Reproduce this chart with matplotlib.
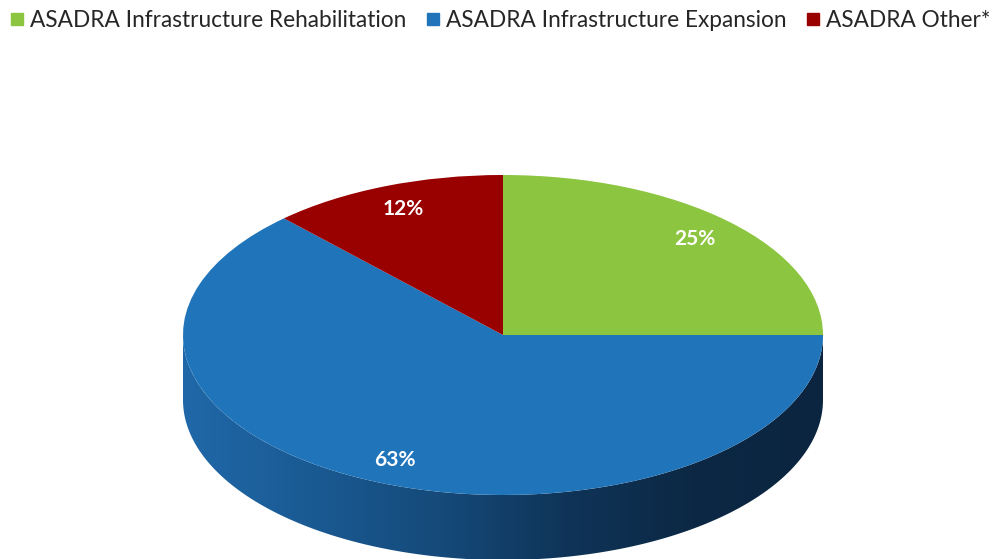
import numpy as np
import matplotlib.pyplot as plt
import matplotlib.transforms as mtransforms
from matplotlib.patches import Wedge, Polygon
from matplotlib.colors import LinearSegmentedColormap
from matplotlib.lines import Line2D

plt.rcParams["font.family"] = ["Lato", "DejaVu Sans"]

# data
categories = [
    "ASADRA Infrastructure Rehabilitation",
    "ASADRA Infrastructure Expansion",
    "ASADRA Other*",
]
shares = [25, 63, 12]
colors = ["#8cc540", "#1f74ba", "#990000"]

fig = plt.figure(figsize=(10.04, 5.59), dpi=100)
ax = fig.add_axes([0, 0, 1, 1])
ax.set_xlim(0, 1004)
ax.set_ylim(0, 559)
ax.axis("off")

# ellipse geometry of the tilted pie (pixels)
cx, cy, rx, ry, depth = 503, 224, 320, 160, 65
ell = mtransforms.Affine2D().scale(rx, ry).translate(cx, cy) + ax.transData

# side wall (front half), all in the colour of the slice covering it
t = np.linspace(np.pi, 2 * np.pi, 200)
top = np.column_stack([np.cos(t), np.sin(t)])
bot = np.column_stack([np.cos(t[::-1]), np.sin(t[::-1]) - depth / ry])
side = Polygon(np.vstack([top, bot]), closed=True, transform=ell,
               facecolor="none", edgecolor="none")
ax.add_patch(side)
side_cmap = LinearSegmentedColormap.from_list(
    "side", ["#2068a8", "#1a5a93", "#154a7a", "#0f3458", "#0c2844", "#0b2540"])
grad = np.linspace(0, 1, 256).reshape(1, -1)
img = ax.imshow(grad, cmap=side_cmap, aspect="auto", zorder=1,
                extent=[cx - rx, cx + rx, cy - ry - depth, cy])
img.set_clip_path(side)

# top slices, clockwise from 12 o'clock
total = sum(shares)
start = 90.0
mids = []
for val, col in zip(shares, colors):
    theta1 = start - 360.0 * val / total
    ax.add_patch(Wedge((0, 0), 1.0, theta1, start, transform=ell,
                       facecolor=col, edgecolor="none", zorder=2))
    mids.append(np.deg2rad((theta1 + start) / 2))
    start = theta1

for val, m in zip(shares, mids):
    r = 0.85
    ax.text(r * np.cos(m), r * np.sin(m), f"{val}%", transform=ell,
            ha="center", va="center", color="white", fontsize=15,
            fontweight="bold", zorder=3)

handles = [Line2D([0], [0], marker="s", linestyle="none", markersize=8.5,
                  markerfacecolor=c, markeredgecolor=c, label=lab)
           for lab, c in zip(categories, colors)]
fig.legend(handles=handles, loc="upper center", bbox_to_anchor=(0.499, 1.018),
           ncol=3, frameon=False, fontsize=16.3, handletextpad=0.3,
           columnspacing=0.95, handlelength=0.5, labelcolor="#262626")

fig.savefig("out.png", dpi=100, facecolor="white")
